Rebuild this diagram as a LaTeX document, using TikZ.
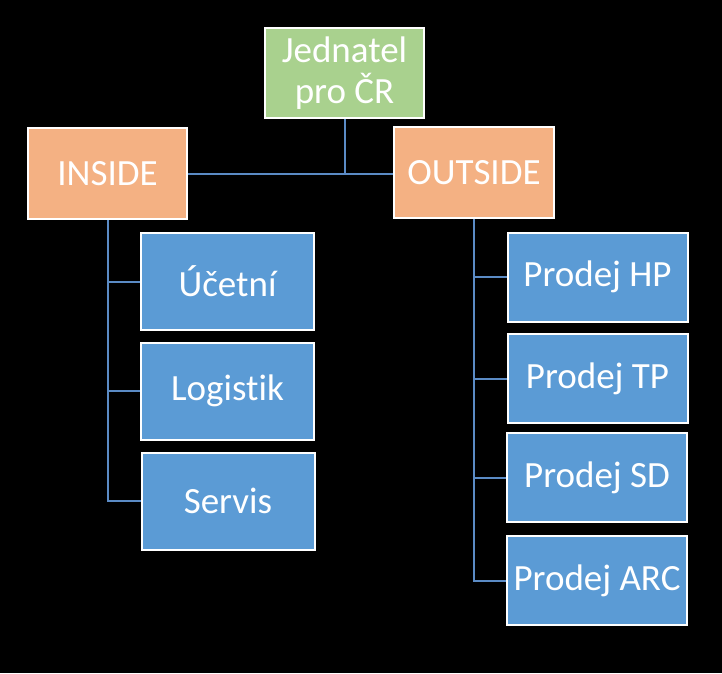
\documentclass[tikz,border=0pt]{standalone}
\usepackage{fontspec}
\setmainfont{Carlito}[Ligatures={NoCommon,NoRare,NoContextual}]
\definecolor{bggreen}{HTML}{A9D18E}
\definecolor{bgorange}{HTML}{F4B183}
\definecolor{bgblue}{HTML}{5B9BD5}
\definecolor{linkblue}{HTML}{5B8BC5}
\begin{document}
\begin{tikzpicture}[x=1pt,y=-1pt,
  box/.style={draw=white, line width=2pt, text=white, align=center, inner sep=0pt,
    font=\fontsize{37}{41}\selectfont},
  greenbox/.style={box, fill=bggreen, minimum width=159pt, minimum height=90pt},
  orangebox/.style={box, fill=bgorange, minimum width=159pt, minimum height=91pt},
  leftbox/.style={box, fill=bgblue, minimum width=173pt, minimum height=97pt},
  rightbox/.style={box, fill=bgblue, minimum width=180pt, minimum height=89pt},
  link/.style={draw=linkblue, line width=2pt}]
\fill[black] (0,0) rectangle (722,673);
\useasboundingbox (0,0) rectangle (722,673);

\node[greenbox] (jed) at (344.5,73) {Jednatel\\pro ČR};
\node[orangebox] (ins) at (107.5,173.5) {INSIDE};
\node[orangebox, minimum width=160pt] (out) at (474,172.5) {OUTSIDE};

\node[leftbox] (uc) at (227.5,281.5) {Účetní};
\node[leftbox] (log) at (227.5,391) {Logistik};
\node[leftbox] (ser) at (228,501) {Servis};

\node[rightbox] (hp) at (597.5,277) {Prodej HP};
\node[rightbox] (tp) at (597.5,378.5) {Prodej TP};
\node[rightbox] (sd) at (597,477.5) {Prodej SD};
\node[rightbox] (arc) at (597,580.5) {Prodej ARC};

\draw[link] (jed.south) -- (jed.south |- ins.east);
\draw[link] (ins.east) -- (out.west |- ins.east);

\draw[link] (ins.south) |- (ser.west);
\draw[link] (ins.south |- uc.west) -- (uc.west);
\draw[link] (ins.south |- log.west) -- (log.west);

\draw[link] (out.south) |- (arc.west);
\draw[link] (out.south |- hp.west) -- (hp.west);
\draw[link] (out.south |- tp.west) -- (tp.west);
\draw[link] (out.south |- sd.west) -- (sd.west);
\end{tikzpicture}
\end{document}
